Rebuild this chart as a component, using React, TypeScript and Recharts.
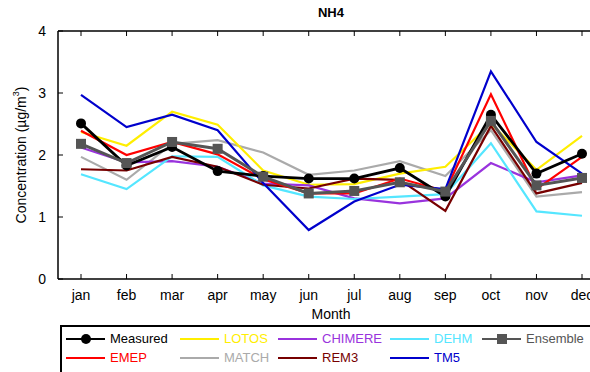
import React from "react";
import { LineChart, Line, XAxis, YAxis, Label } from "recharts";

const months = ["jan", "feb", "mar", "apr", "may", "jun", "jul", "aug", "sep", "oct", "nov", "dec"];
const yTicks = [0, 1, 2, 3, 4];

const measured = [2.51, 1.83, 2.13, 1.74, 1.66, 1.62, 1.62, 1.79, 1.33, 2.65, 1.70, 2.02];
const lotos = [2.37, 2.15, 2.70, 2.49, 1.75, 1.52, 1.53, 1.70, 1.81, 2.51, 1.76, 2.31];
const chimere = [2.12, 1.88, 1.90, 1.81, 1.54, 1.51, 1.30, 1.22, 1.30, 1.87, 1.56, 1.67];
const dehm = [1.69, 1.45, 1.98, 1.97, 1.51, 1.33, 1.29, 1.33, 1.37, 2.19, 1.09, 1.02];
const ensemble = [2.18, 1.87, 2.21, 2.10, 1.65, 1.38, 1.42, 1.56, 1.41, 2.55, 1.51, 1.63];
const emep = [2.39, 2.00, 2.21, 2.01, 1.61, 1.38, 1.38, 1.62, 1.42, 2.98, 1.45, 1.97];
const match = [1.97, 1.60, 2.18, 2.24, 2.04, 1.68, 1.75, 1.90, 1.66, 2.40, 1.33, 1.40];
const rem3 = [1.77, 1.75, 1.97, 1.81, 1.52, 1.46, 1.62, 1.60, 1.10, 2.47, 1.38, 1.55];
const tm5 = [2.97, 2.45, 2.65, 2.40, 1.55, 0.79, 1.25, 1.52, 1.45, 3.35, 2.21, 1.70];

const data = months.map((month, i) => ({
  month,
  measured: measured[i],
  lotos: lotos[i],
  chimere: chimere[i],
  dehm: dehm[i],
  ensemble: ensemble[i],
  emep: emep[i],
  match: match[i],
  rem3: rem3[i],
  tm5: tm5[i],
}));

const FONT = "'Liberation Sans', Arial, sans-serif";

const C = {
  measured: "#000000",
  lotos: "#ffee00",
  chimere: "#9933dd",
  dehm: "#55e6ff",
  ensemble: "#555555",
  emep: "#ff0000",
  match: "#aaaaaa",
  rem3: "#770000",
  tm5: "#0000cc",
};

const legendRows = [
  [
    { key: "measured", name: "Measured", x: 66 },
    { key: "lotos", name: "LOTOS", x: 180 },
    { key: "chimere", name: "CHIMERE", x: 278 },
    { key: "dehm", name: "DEHM", x: 390 },
    { key: "ensemble", name: "Ensemble", x: 482 },
  ],
  [
    { key: "emep", name: "EMEP", x: 66 },
    { key: "match", name: "MATCH", x: 180 },
    { key: "rem3", name: "REM3", x: 278 },
    { key: "tm5", name: "TM5", x: 390 },
  ],
];

const SquareDot = (props: any) => {
  const { cx, cy } = props;
  if (cx == null || cy == null) return null;
  return <rect x={cx - 5} y={cy - 5} width={10} height={10} fill={C.ensemble} />;
};

const YLabel = (props: any) => {
  const cx = 22;
  const cy = 155;
  return (
    <text
      x={cx}
      y={cy}
      transform={`rotate(-90, ${cx}, ${cy})`}
      textAnchor="middle"
      dominantBaseline="middle"
      fontFamily={FONT}
      fontSize={14}
      fill="#000"
    >
      Concentration (µg/m<tspan dy={-5} fontSize={9}>3</tspan><tspan dy={5}>)</tspan>
    </text>
  );
};

const tickStyle = { fill: "#000", fontSize: 14, fontFamily: FONT };

export default function App() {
  const line = (key: keyof typeof C, width = 2.2) => (
    <Line
      key={key}
      type="linear"
      dataKey={key}
      stroke={C[key]}
      strokeWidth={width}
      dot={false}
      activeDot={false}
      isAnimationActive={false}
    />
  );

  return (
    <div
      style={{
        position: "fixed",
        left: 0,
        top: 0,
        width: 590,
        height: 372,
        overflow: "hidden",
        background: "#fff",
        fontFamily: FONT,
      }}
    >
      <div
        style={{
          position: "absolute",
          left: 0,
          width: 662,
          top: 5,
          textAlign: "center",
          fontWeight: "bold",
          fontSize: 13,
        }}
      >
        NH4
      </div>
      <div style={{ position: "absolute", left: 0, width: 662, top: 306, textAlign: "center", fontSize: 14 }}>
        Month
      </div>
      <LineChart
        width={620}
        height={372}
        data={data}
        margin={{ top: 30, right: 15, bottom: 63, left: 0 }}
      >
        <XAxis
          xAxisId="top"
          orientation="top"
          dataKey="month"
          height={1}
          padding={{ left: 23, right: 23 }}
          tickSize={-5}
          tickFormatter={() => ""}
          axisLine={{ stroke: "#000", strokeWidth: 1.5 }}
          tickLine={{ stroke: "#000" }}
        />
        <XAxis
          dataKey="month"
          height={30}
          padding={{ left: 23, right: 23 }}
          tickSize={-5}
          tickMargin={16}
          tick={tickStyle}
          axisLine={{ stroke: "#000", strokeWidth: 1.5 }}
          tickLine={{ stroke: "#000" }}
          interval={0}
        />
        <YAxis
          width={58}
          domain={[0, 4]}
          ticks={yTicks}
          tickSize={-5}
          tickMargin={17}
          tick={tickStyle}
          axisLine={{ stroke: "#000", strokeWidth: 1.5 }}
          tickLine={{ stroke: "#000" }}
        >
          <Label content={<YLabel />} />
        </YAxis>
        {line("match")}
        {line("lotos")}
        {line("chimere")}
        {line("dehm")}
        {line("rem3")}
        {line("emep")}
        {line("tm5")}
        <Line
          type="linear"
          dataKey="measured"
          stroke={C.measured}
          strokeWidth={2.8}
          dot={{ r: 5, fill: C.measured, stroke: C.measured, strokeWidth: 0 }}
          activeDot={false}
          isAnimationActive={false}
        />
        <Line
          type="linear"
          dataKey="ensemble"
          stroke={C.ensemble}
          strokeWidth={3}
          dot={<SquareDot />}
          activeDot={false}
          isAnimationActive={false}
        />
      </LineChart>
      <div
        style={{
          position: "absolute",
          left: 60,
          top: 325,
          width: 580,
          height: 60,
          border: "2px solid #000",
          boxSizing: "border-box",
        }}
      />
      {legendRows.map((row, ri) =>
        row.map((it) => {
          const y = ri === 0 ? 339 : 358;
          const color = C[it.key as keyof typeof C];
          return (
            <div key={it.key} style={{ position: "absolute", left: it.x, top: y - 9, height: 18 }}>
              <svg width={40} height={18} style={{ position: "absolute", left: 0, top: 0 }}>
                <line x1={0} y1={9} x2={39} y2={9} stroke={color} strokeWidth={2} />
                {it.key === "measured" && <circle cx={20} cy={9} r={5} fill={color} />}
                {it.key === "ensemble" && <rect x={15} y={4} width={10} height={10} fill={color} />}
              </svg>
              <span
                style={{
                  position: "absolute",
                  left: 44,
                  top: 0,
                  lineHeight: "18px",
                  fontSize: 13,
                  color,
                  whiteSpace: "nowrap",
                }}
              >
                {it.name}
              </span>
            </div>
          );
        })
      )}
    </div>
  );
}
